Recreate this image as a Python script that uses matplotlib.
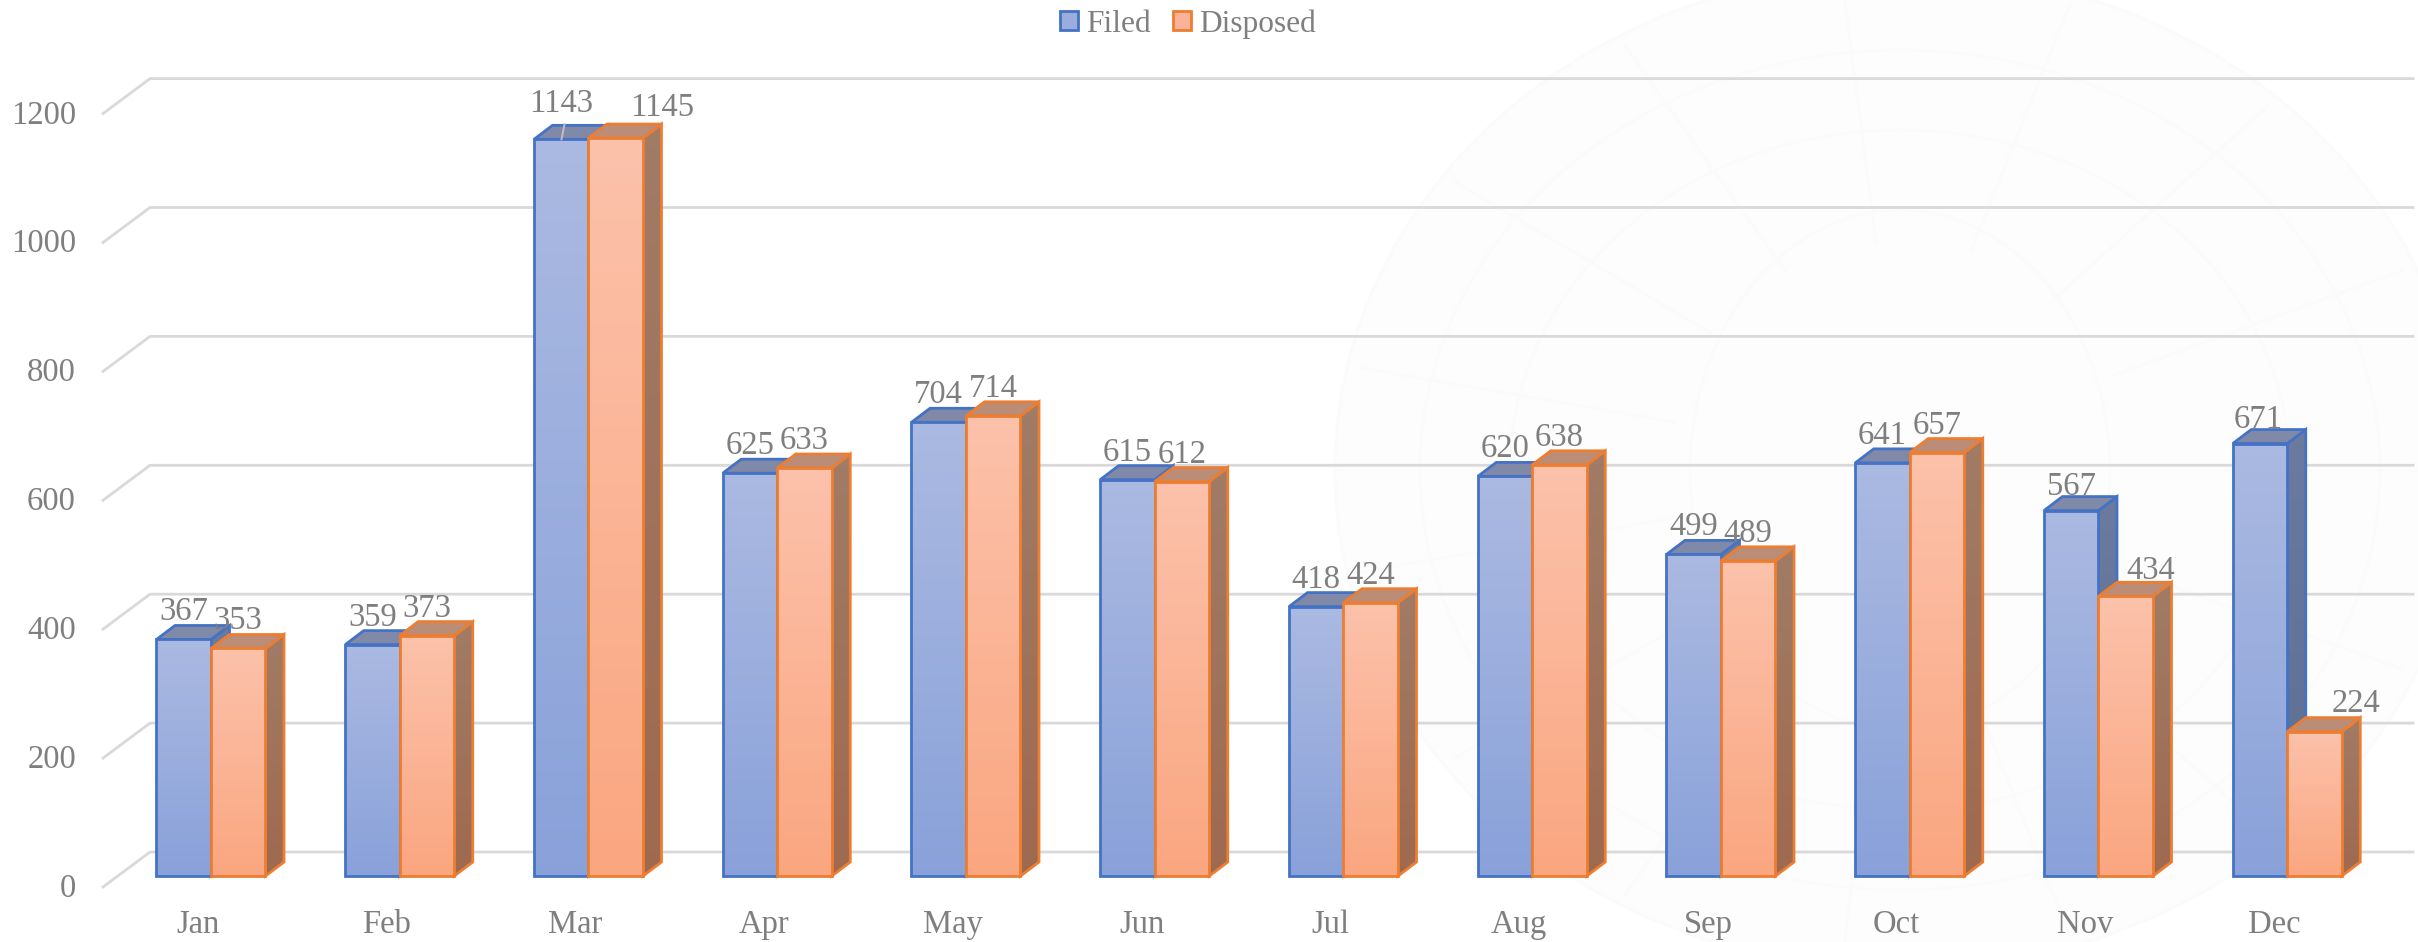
import matplotlib
matplotlib.use('Agg')
import matplotlib.pyplot as plt
from matplotlib.colors import to_rgb
from matplotlib.patches import Ellipse, Patch, Polygon, Rectangle
import numpy as np

months = ['Jan', 'Feb', 'Mar', 'Apr', 'May', 'Jun', 'Jul', 'Aug', 'Sep', 'Oct', 'Nov', 'Dec']
filed = [367, 359, 1143, 625, 704, 615, 418, 620, 499, 641, 567, 671]
disposed = [353, 373, 1145, 633, 714, 612, 424, 638, 489, 657, 434, 224]
y_ticks = [0, 200, 400, 600, 800, 1000, 1200]

W, H = 2418, 942
PX_X = 188.75       # pixels per month
PX_Y = 0.6445       # pixels per case
X0, Y0 = 211, 876   # pixel of month 0 split / value 0

plt.rcParams['font.family'] = ['Liberation Serif', 'DejaVu Serif']
GREY = '#7f7f7f'
FS = 23.5


def dx(px):
    return px / PX_X


def dy(px):
    return px / PX_Y


fig = plt.figure(figsize=(W / 100, H / 100), dpi=100)
ax = fig.add_axes([0, 0, 1, 1])
ax.axis('off')

# faint emblem behind the chart
wm = '#fbfbfb'
ax.add_patch(Ellipse((dx(1900 - X0), dy(Y0 - 470)), dx(1130), dy(1000), fc='#fdfdfd', ec=wm, lw=2, zorder=0))
for w, h in [(960, 840), (780, 680), (420, 520)]:
    ax.add_patch(Ellipse((dx(1900 - X0), dy(Y0 - 470)), dx(w), dy(h), fc='none', ec=wm, lw=2, zorder=0))
for a in np.deg2rad(np.arange(0, 360, 24)):
    ax.plot([dx(1900 - X0 + 230 * np.cos(a)), dx(1900 - X0 + 550 * np.cos(a))],
            [dy(Y0 - 470 + 230 * np.sin(a)), dy(Y0 - 470 + 490 * np.sin(a))], color=wm, lw=2, zorder=0)

# gridlines on back wall with the slanted side wall
for v in y_ticks:
    ax.plot([dx(103 - X0), dx(150 - X0), dx(2413 - X0)],
            [v + dy(-11), v + dy(24), v + dy(24)], color='#d9d9d9', lw=2.0, zorder=1,
            solid_joinstyle='miter')
    ax.text(dx(76 - X0), v + dy(-21), str(v), ha='right', va='baseline', color=GREY, fontsize=FS, zorder=5)


def gradient(top, bottom, x0, x1, y0, y1, zorder, clip=None):
    t, b = np.array(to_rgb(top)), np.array(to_rgb(bottom))
    n = 64
    f = np.linspace(0, 1, n)[:, None, None]
    mesh = ax.pcolormesh([x0, x1], np.linspace(y1, y0, n + 1), t * (1 - f) + b * f,
                         zorder=zorder, shading='flat', antialiased=False, linewidth=0)
    if clip is not None:
        mesh.set_clip_path(clip)


def bar3d(left, value, zorder, edge, front, side, top):
    w = dx(54.5)
    ddx, ddy = dx(18.5), dy(14)
    lw = 2.0
    right = left + w
    # side face
    pts = [(right, 0), (right + ddx, ddy), (right + ddx, value + ddy), (right, value)]
    clip = Polygon(pts, closed=True, transform=ax.transData, fc='none', ec='none')
    ax.add_patch(clip)
    gradient(side[0], side[1], right, right + ddx, 0, value + ddy, zorder, clip)
    ax.add_patch(Polygon(pts, closed=True, fc='none', ec=edge, lw=lw, zorder=zorder + 0.1))
    # top face
    ax.add_patch(Polygon([(left, value), (left + ddx, value + ddy), (right + ddx, value + ddy), (right, value)],
                         closed=True, fc=top, ec=edge, lw=lw, zorder=zorder + 0.1))
    # front face
    gradient(front[0], front[1], left, right, 0, value, zorder + 0.2)
    ax.add_patch(Rectangle((left, 0), w, value, fc='none', ec=edge, lw=lw, zorder=zorder + 0.3))


for i, (f, d) in enumerate(zip(filed, disposed)):
    bar3d(i - dx(54.5), f, 2 + i, '#4472c4', ('#aab9e1', '#89a1d9'), ('#6b7a9e', '#5a6d92'), '#8089a8')
    bar3d(i, d, 2.5 + i, '#ed7d31', ('#fbc1aa', '#faa680'), ('#a07b66', '#9e694f'), '#bb8d76')

# labels that sit away from their bar, in pixels
shift = {('f', 2): (0, 8), ('d', 2): (46, 3), ('d', 10): (25, -2), ('d', 11): (42, 1),
         ('f', 10): (0, -3), ('f', 11): (-2, -3)}
for i, (f, d) in enumerate(zip(filed, disposed)):
    for key, val, c in (('f', f, i - dx(27.25)), ('d', d, i + dx(27.25))):
        sx, sy = shift.get((key, i), (0, 0))
        ax.text(c + dx(sx), val + dy(19 + sy), str(val), ha='center', va='baseline',
                color=GREY, fontsize=FS, zorder=40)
    ax.text(i - dx(13), dy(-57), months[i], ha='center', va='baseline', color=GREY, fontsize=FS, zorder=40)

# leader line of the March label
ax.plot([2 - dx(24), 2 - dx(27)], [filed[2] + dy(15), filed[2]], color='#bfbfbf', lw=1.4, zorder=39)

ax.set_xlim(dx(-X0), dx(W - X0))
ax.set_ylim(dy(Y0 - H), dy(Y0))

handles = [Patch(fc='#9aaddd', ec='#4472c4', lw=2.0, label='Filed'),
           Patch(fc='#fab399', ec='#ed7d31', lw=2.0, label='Disposed')]
ax.legend(handles=handles, loc='upper center', bbox_to_anchor=(1188 / W, 1 - 6 / H), ncol=2, frameon=False,
          fontsize=22.6, labelcolor=GREY, handlelength=0.57, handleheight=0.57,
          handletextpad=0.25, columnspacing=0.72, borderpad=0.1, borderaxespad=0)

fig.savefig('out.png', dpi=100)
